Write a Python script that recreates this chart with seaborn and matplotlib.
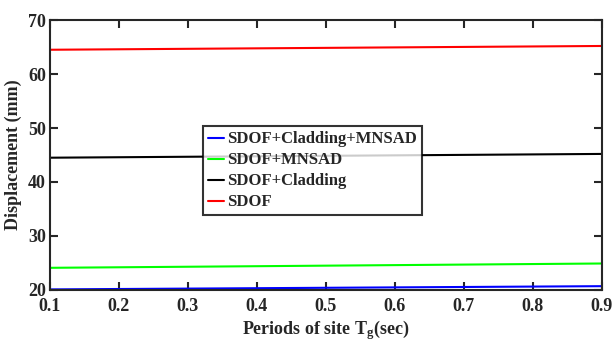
import matplotlib
matplotlib.use("Agg")
import matplotlib.pyplot as plt
import seaborn as sns
import pandas as pd
import numpy as np

# data
tg = [0.1, 0.9]
sdof_clad_mnsad = [20.1, 20.7]
sdof_mnsad = [24.1, 24.9]
sdof_clad = [44.5, 45.2]
sdof = [64.5, 65.2]

labels = ["SDOF+Cladding+MNSAD", "SDOF+MNSAD", "SDOF+Cladding", "SDOF"]
colors = ["#0000ff", "#00ff00", "#000000", "#ff0000"]

df = pd.DataFrame({
    "Tg": tg * 4,
    "disp": sdof_clad_mnsad + sdof_mnsad + sdof_clad + sdof,
    "case": [l for l in labels for _ in tg],
})

sns.set_style("ticks")
plt.rcParams['font.family'] = ['Liberation Serif', 'DejaVu Serif']
plt.rcParams['font.weight'] = 'bold'
plt.rcParams['mathtext.fontset'] = 'custom'
plt.rcParams['mathtext.rm'] = 'Liberation Serif:bold'
plt.rcParams['mathtext.it'] = 'Liberation Serif:bold'

fig = plt.figure(figsize=(6.14, 3.46), dpi=100)
ax = fig.add_axes([0.0814, 0.162, 0.899, 0.780])
sns.lineplot(data=df, x="Tg", y="disp", hue="case", hue_order=labels,
             palette=colors, linewidth=1.5, ax=ax)

ax.set_xlim(0.1, 0.9)
ax.set_ylim(20, 70)
ax.set_xticks(np.arange(0.1, 0.91, 0.1))
ax.set_xticklabels(["0.1", "0.2", "0.3", "0.4", "0.5", "0.6", "0.7", "0.8", "0.9"])
ax.set_yticks([20, 30, 40, 50, 60, 70])
ax.tick_params(direction="in", length=6, width=1.5, labelsize=13, top=True, right=True)
ax.tick_params(axis="x", pad=6)
ax.tick_params(axis="y", pad=3)
for s in ax.spines.values():
    s.set_linewidth(1.5)
    s.set_visible(True)

ax.set_xlabel("Periods of site T$_\\mathregular{g}$(sec)", fontsize=13, fontweight="bold", labelpad=2)
ax.set_ylabel("Displacement (mm)", fontsize=13, fontweight="bold", labelpad=4)

leg = ax.legend(loc="center", bbox_to_anchor=(0.4755, 0.441), frameon=True, fancybox=False,
                edgecolor="black", fontsize=12, handlelength=1.0, handletextpad=0.2,
                borderpad=0.3, labelspacing=0.3, borderaxespad=0)
leg.get_frame().set_linewidth(1.5)
for t in leg.get_texts():
    t.set_fontweight("bold")

fig.savefig("out.png", dpi=100)
